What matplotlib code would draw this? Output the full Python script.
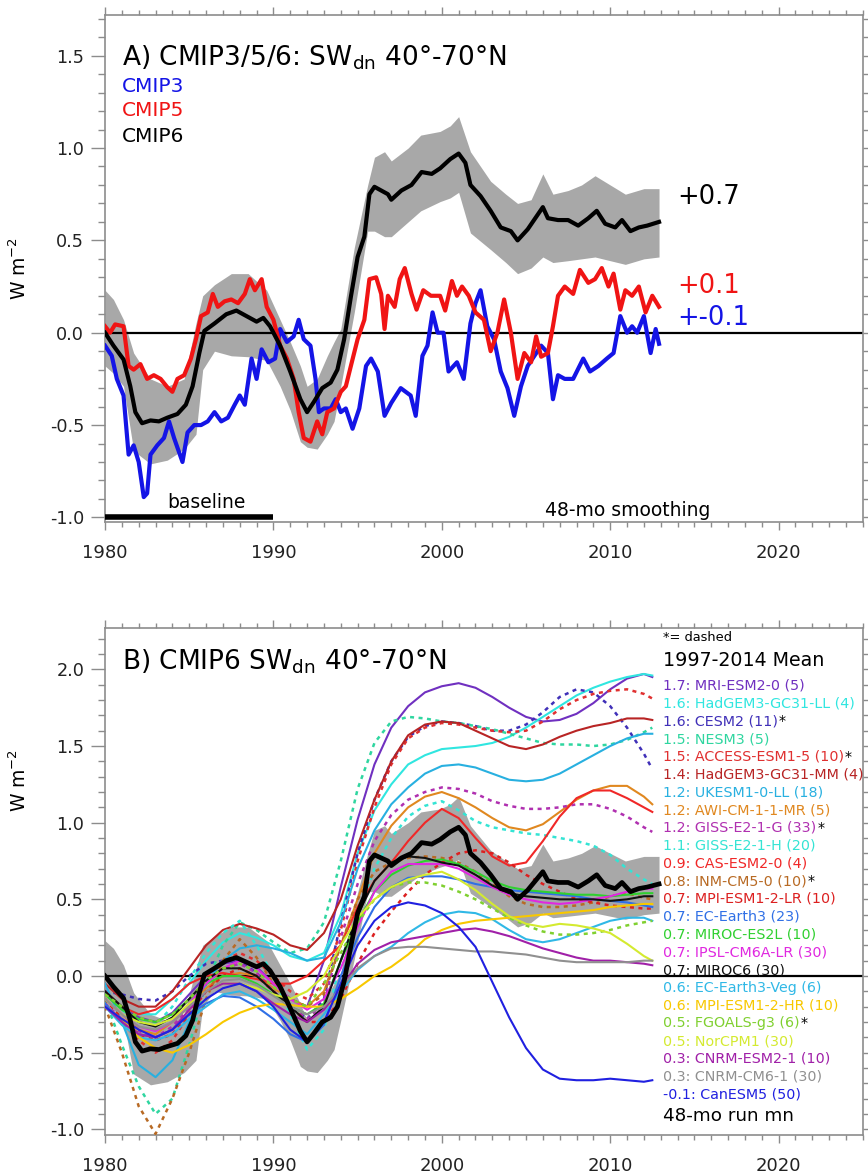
import matplotlib
matplotlib.use("Agg")
import matplotlib.pyplot as plt
from matplotlib.ticker import MultipleLocator, FormatStrFormatter

plt.rcParams['font.family'] = ['DejaVu Sans']
plt.rcParams['mathtext.default'] = 'regular'
plt.rcParams['axes.unicode_minus'] = False

# ---- panel A: multi-model means, 48-mo smoothing ----
cmip6_years = [1980.0, 1980.5, 1981.1, 1981.5, 1981.8, 1982.2, 1982.7, 1983.2, 1983.7, 1984.3,
               1984.8, 1985.2, 1985.6, 1985.9, 1986.5, 1987.2, 1987.8, 1988.4, 1989.0, 1989.4,
               1989.8, 1990.4, 1991.0, 1991.6, 1992.0, 1992.4, 1992.9, 1993.4, 1993.8, 1994.2,
               1994.6, 1995.0, 1995.4, 1995.7, 1996.0, 1996.8, 1997.0, 1997.6, 1998.2, 1998.8,
               1999.4, 1999.9, 2000.5, 2001.0, 2001.4, 2001.7, 2002.3, 2002.9, 2003.5, 2004.1,
               2004.5, 2005.1, 2005.7, 2006.0, 2006.3, 2006.9, 2007.5, 2008.1, 2008.7, 2009.2,
               2009.7, 2010.3, 2010.7, 2011.2, 2011.7, 2012.2, 2012.9]
cmip6_vals = [0.00, -0.07, -0.145, -0.29, -0.43, -0.49, -0.475, -0.48, -0.46, -0.44,
              -0.39, -0.29, -0.11, 0.01, 0.05, 0.10, 0.12, 0.09, 0.06, 0.08,
              0.035, -0.07, -0.21, -0.36, -0.43, -0.375, -0.30, -0.27, -0.20, -0.035,
              0.195, 0.41, 0.52, 0.75, 0.79, 0.75, 0.72, 0.77, 0.80, 0.87,
              0.86, 0.89, 0.94, 0.97, 0.92, 0.80, 0.74, 0.66, 0.57, 0.55,
              0.50, 0.56, 0.64, 0.68, 0.62, 0.61, 0.61, 0.58, 0.62, 0.66,
              0.59, 0.57, 0.61, 0.55, 0.57, 0.58, 0.60]

band_years = [1980.0, 1980.5, 1981.1, 1981.7, 1982.7, 1983.7, 1984.7, 1985.4, 1985.8, 1986.5,
              1987.5, 1988.5, 1989.6, 1990.4, 1991.0, 1991.6, 1992.0, 1992.6, 1993.2, 1993.6,
              1994.0, 1994.8, 1995.6, 1996.0, 1996.6, 1997.0, 1998.0, 1998.75, 1999.9, 2000.5,
              2001.0, 2001.7, 2002.9, 2003.8, 2004.5, 2005.3, 2006.0, 2006.6, 2007.5, 2008.3,
              2009.1, 2010.0, 2010.9, 2012.0, 2012.9]
band_upper = [0.23, 0.18, 0.07, -0.11, -0.25, -0.29, -0.25, 0.05, 0.20, 0.26,
              0.32, 0.32, 0.23, 0.07, -0.05, -0.18, -0.29, -0.25, -0.125, -0.05,
              0.02, 0.46, 0.80, 0.95, 0.98, 0.93, 1.00, 1.07, 1.09, 1.12,
              1.17, 0.98, 0.82, 0.75, 0.70, 0.72, 0.86, 0.75, 0.77, 0.80,
              0.85, 0.80, 0.75, 0.78, 0.78]
band_lower = [-0.18, -0.22, -0.29, -0.64, -0.71, -0.69, -0.63, -0.55, -0.20, -0.10,
              -0.125, -0.13, -0.15, -0.29, -0.42, -0.59, -0.62, -0.63, -0.55, -0.48,
              -0.29, 0.11, 0.55, 0.55, 0.52, 0.52, 0.60, 0.66, 0.71, 0.73,
              0.76, 0.54, 0.45, 0.38, 0.32, 0.35, 0.41, 0.38, 0.39, 0.40,
              0.41, 0.39, 0.37, 0.40, 0.41]

cmip5_years = [1980.0, 1980.3, 1980.6, 1981.1, 1981.4, 1981.7, 1982.1, 1982.5, 1982.9, 1983.3,
               1983.7, 1984.0, 1984.3, 1984.7, 1985.1, 1985.4, 1985.7, 1986.1, 1986.4, 1986.7,
               1987.1, 1987.5, 1987.9, 1988.3, 1988.6, 1988.9, 1989.3, 1989.6, 1990.0, 1990.4,
               1990.8, 1991.2, 1991.5, 1991.8, 1992.2, 1992.6, 1992.9, 1993.2, 1993.6, 1994.0,
               1994.3, 1994.6, 1995.0, 1995.4, 1995.7, 1996.1, 1996.4, 1996.6, 1996.8, 1997.2,
               1997.5, 1997.8, 1998.2, 1998.5, 1998.9, 1999.35, 1999.9, 2000.2, 2000.6, 2000.9,
               2001.2, 2001.6, 2002.0, 2002.5, 2002.9, 2003.3, 2003.7, 2004.1, 2004.5, 2004.9,
               2005.3, 2005.6, 2005.9, 2006.3, 2006.6, 2006.9, 2007.3, 2007.8, 2008.2, 2008.7,
               2009.1, 2009.5, 2009.9, 2010.2, 2010.6, 2010.9, 2011.3, 2011.7, 2012.1, 2012.5,
               2012.9]
cmip5_vals = [0.035, 0.0, 0.045, 0.035, -0.18, -0.20, -0.17, -0.25, -0.23, -0.25,
              -0.295, -0.32, -0.25, -0.23, -0.14, -0.035, 0.09, 0.11, 0.21, 0.14,
              0.17, 0.18, 0.16, 0.21, 0.29, 0.23, 0.29, 0.14, 0.07, -0.07,
              -0.14, -0.25, -0.43, -0.57, -0.59, -0.48, -0.55, -0.43, -0.41, -0.32,
              -0.29, -0.18, -0.035, 0.07, 0.29, 0.30, 0.21, 0.02, 0.20, 0.14,
              0.29, 0.35, 0.21, 0.125, 0.23, 0.20, 0.20, 0.12, 0.28, 0.20,
              0.25, 0.20, 0.11, 0.07, -0.10, 0.0, 0.18, 0.0, -0.25, -0.11,
              -0.16, -0.02, -0.13, -0.11, 0.035, 0.20, 0.25, 0.21, 0.34, 0.27,
              0.29, 0.35, 0.25, 0.32, 0.125, 0.23, 0.20, 0.25, 0.11, 0.20,
              0.14]

cmip3_years = [1980.0, 1980.4, 1980.7, 1981.1, 1981.4, 1981.7, 1982.0, 1982.3, 1982.5, 1982.7,
               1983.1, 1983.5, 1983.8, 1984.1, 1984.6, 1984.9, 1985.3, 1985.7, 1986.1, 1986.5,
               1986.9, 1987.3, 1987.7, 1988.0, 1988.3, 1988.7, 1989.0, 1989.3, 1989.7, 1990.1,
               1990.4, 1990.8, 1991.2, 1991.5, 1991.8, 1992.2, 1992.5, 1992.7, 1993.0, 1993.4,
               1993.7, 1994.0, 1994.3, 1994.7, 1995.1, 1995.5, 1995.8, 1996.2, 1996.6, 1997.0,
               1997.56, 1998.15, 1998.45, 1998.85, 1999.15, 1999.45, 1999.75, 2000.1, 2000.4, 2000.9,
               2001.3, 2001.7, 2002.0, 2002.3, 2002.7, 2003.1, 2003.5, 2003.9, 2004.3, 2004.7,
               2005.1, 2005.5, 2005.9, 2006.3, 2006.6, 2006.9, 2007.3, 2007.8, 2008.4, 2008.8,
               2009.3, 2009.8, 2010.2, 2010.6, 2011.0, 2011.3, 2011.6, 2012.0, 2012.4, 2012.7,
               2012.9]
cmip3_vals = [-0.07, -0.125, -0.25, -0.34, -0.66, -0.61, -0.70, -0.89, -0.87, -0.66,
              -0.61, -0.57, -0.48, -0.57, -0.70, -0.54, -0.50, -0.50, -0.48, -0.43,
              -0.48, -0.46, -0.39, -0.34, -0.39, -0.14, -0.25, -0.09, -0.16, -0.14,
              0.02, -0.05, -0.02, 0.07, -0.035, -0.07, -0.25, -0.43, -0.41, -0.41,
              -0.36, -0.43, -0.41, -0.52, -0.41, -0.18, -0.14, -0.21, -0.45, -0.38,
              -0.30, -0.34, -0.45, -0.125, -0.07, 0.11, 0.0, 0.0, -0.21, -0.16,
              -0.25, 0.05, 0.16, 0.23, 0.035, -0.035, -0.21, -0.30, -0.45, -0.29,
              -0.18, -0.125, -0.07, -0.11, -0.36, -0.23, -0.25, -0.25, -0.14, -0.21,
              -0.18, -0.14, -0.11, 0.09, 0.0, 0.035, 0.0, 0.09, -0.11, 0.02,
              -0.06]

baseline_years = [1980, 1990]
baseline_level = [-1.0, -1.0]

# ---- panel B: individual CMIP6 models (48-mo running mean) ----
model_years = list(range(1980, 2013)) + [2012.5]

mri_esm2_0 = [-0.10, -0.20, -0.27, -0.30, -0.24, -0.12, 0.00, 0.08, 0.10, 0.06, -0.05, -0.15, -0.20, 0.10,
              0.58, 1.02, 1.38, 1.62, 1.76, 1.85, 1.89, 1.91, 1.88, 1.82, 1.75, 1.69, 1.66, 1.67, 1.71, 1.78,
              1.87, 1.94, 1.97, 1.95]
hadgem3_ll = [-0.10, -0.20, -0.25, -0.25, -0.15, -0.05, 0.10, 0.22, 0.28, 0.25, 0.20, 0.13, 0.10, 0.15,
              0.40, 0.80, 1.08, 1.25, 1.38, 1.44, 1.48, 1.49, 1.50, 1.52, 1.56, 1.62, 1.69, 1.76, 1.83, 1.88,
              1.92, 1.95, 1.97, 1.96]
cesm2 = [-0.10, -0.12, -0.15, -0.16, -0.10, 0.00, 0.08, 0.10, 0.10, 0.02, -0.10, -0.20, -0.28, -0.15,
         0.35, 0.80, 1.15, 1.40, 1.56, 1.63, 1.66, 1.65, 1.63, 1.60, 1.60, 1.64, 1.72, 1.82, 1.87, 1.85,
         1.76, 1.62, 1.45, 1.35]
nesm3 = [-0.15, -0.45, -0.72, -0.90, -0.80, -0.45, -0.05, 0.20, 0.35, 0.30, 0.22, 0.15, 0.18, 0.35,
         0.75, 1.22, 1.52, 1.66, 1.69, 1.68, 1.66, 1.65, 1.63, 1.61, 1.58, 1.55, 1.52, 1.51, 1.51, 1.50,
         1.51, 1.54, 1.59, 1.62]
access_esm1_5 = [-0.20, -0.30, -0.42, -0.50, -0.42, -0.25, -0.05, 0.10, 0.15, 0.10, 0.00, -0.10, -0.15, -0.05,
                 0.30, 0.75, 1.10, 1.38, 1.55, 1.62, 1.65, 1.64, 1.62, 1.60, 1.59, 1.60, 1.66, 1.74, 1.80, 1.84,
                 1.86, 1.87, 1.84, 1.81]
hadgem3_mm = [-0.05, -0.15, -0.20, -0.20, -0.10, 0.05, 0.20, 0.30, 0.34, 0.31, 0.27, 0.20, 0.17, 0.28,
              0.50, 0.85, 1.15, 1.40, 1.57, 1.64, 1.66, 1.65, 1.60, 1.55, 1.50, 1.48, 1.51, 1.56, 1.60, 1.63,
              1.65, 1.68, 1.68, 1.67]
ukesm1_0_ll = [-0.05, -0.30, -0.58, -0.66, -0.55, -0.30, -0.05, 0.10, 0.18, 0.20, 0.18, 0.15, 0.10, 0.12,
               0.35, 0.70, 0.95, 1.12, 1.23, 1.32, 1.37, 1.38, 1.36, 1.32, 1.28, 1.27, 1.28, 1.32, 1.38, 1.44,
               1.50, 1.55, 1.58, 1.58]
awi_cm_1_1_mr = [-0.15, -0.25, -0.35, -0.38, -0.30, -0.20, -0.08, 0.00, 0.02, 0.00, -0.08, -0.15, -0.20, -0.10,
                 0.20, 0.50, 0.80, 0.98, 1.10, 1.17, 1.20, 1.16, 1.10, 1.03, 0.97, 0.95, 0.99, 1.07, 1.15, 1.21,
                 1.24, 1.24, 1.17, 1.12]
giss_e2_1_g = [-0.18, -0.28, -0.36, -0.40, -0.33, -0.20, -0.05, 0.05, 0.08, 0.02, -0.10, -0.20, -0.28, -0.18,
               0.25, 0.60, 0.88, 1.05, 1.15, 1.20, 1.23, 1.22, 1.19, 1.14, 1.11, 1.09, 1.09, 1.10, 1.12, 1.12,
               1.09, 1.04, 0.97, 0.94]
giss_e2_1_h = [-0.10, -0.22, -0.30, -0.32, -0.20, -0.02, 0.15, 0.28, 0.36, 0.20, 0.00, -0.25, -0.48, -0.35,
               0.10, 0.40, 0.70, 0.90, 1.04, 1.11, 1.14, 1.08, 1.01, 0.97, 0.95, 0.93, 0.92, 0.90, 0.88, 0.85,
               0.79, 0.70, 0.63, 0.60]
cas_esm2_0 = [-0.10, -0.20, -0.25, -0.22, -0.15, -0.05, 0.00, 0.02, 0.00, -0.02, -0.05, -0.05, 0.00, 0.10,
              0.20, 0.45, 0.62, 0.74, 0.88, 1.00, 1.09, 1.03, 0.90, 0.78, 0.72, 0.74, 0.88, 1.04, 1.16, 1.21,
              1.21, 1.16, 1.10, 1.07]
inm_cm5_0 = [-0.20, -0.50, -0.85, -1.03, -0.80, -0.50, -0.15, 0.10, 0.24, 0.12, -0.05, -0.15, -0.20, -0.12,
             0.20, 0.50, 0.68, 0.74, 0.77, 0.78, 0.77, 0.74, 0.68, 0.60, 0.52, 0.47, 0.45, 0.45, 0.46, 0.48,
             0.52, 0.54, 0.51, 0.50]
mpi_esm1_2_lr = [-0.15, -0.28, -0.38, -0.42, -0.38, -0.25, -0.10, 0.00, 0.05, 0.00, -0.10, -0.20, -0.30, -0.30,
                 -0.15, 0.08, 0.28, 0.42, 0.55, 0.66, 0.74, 0.80, 0.82, 0.80, 0.74, 0.66, 0.60, 0.55, 0.50, 0.48,
                 0.46, 0.45, 0.44, 0.44]
ec_earth3 = [-0.18, -0.30, -0.38, -0.40, -0.35, -0.25, -0.18, -0.13, -0.14, -0.20, -0.28, -0.38, -0.43, -0.32,
             0.00, 0.25, 0.45, 0.58, 0.64, 0.65, 0.65, 0.63, 0.60, 0.58, 0.56, 0.55, 0.54, 0.53, 0.52, 0.50,
             0.49, 0.48, 0.46, 0.45]
miroc_es2l = [-0.12, -0.22, -0.28, -0.30, -0.25, -0.15, -0.05, 0.00, 0.00, -0.05, -0.12, -0.20, -0.25, -0.18,
              0.10, 0.35, 0.55, 0.66, 0.72, 0.75, 0.76, 0.73, 0.68, 0.62, 0.58, 0.56, 0.55, 0.54, 0.53, 0.53,
              0.52, 0.53, 0.54, 0.54]
ipsl_cm6a_lr = [-0.15, -0.25, -0.33, -0.36, -0.30, -0.18, -0.05, 0.05, 0.10, 0.05, -0.05, -0.15, -0.22, -0.15,
                0.05, 0.32, 0.55, 0.68, 0.73, 0.73, 0.73, 0.70, 0.64, 0.58, 0.53, 0.50, 0.48, 0.47, 0.48, 0.50,
                0.52, 0.55, 0.57, 0.57]
miroc6 = [-0.10, -0.20, -0.30, -0.33, -0.27, -0.15, -0.03, 0.05, 0.05, 0.00, -0.10, -0.20, -0.30, -0.20,
          0.10, 0.40, 0.62, 0.74, 0.78, 0.77, 0.74, 0.72, 0.66, 0.59, 0.54, 0.52, 0.51, 0.50, 0.50, 0.50,
          0.49, 0.50, 0.52, 0.52]
ec_earth3_veg = [-0.20, -0.32, -0.40, -0.42, -0.38, -0.28, -0.20, -0.12, -0.10, -0.15, -0.22, -0.30, -0.38, -0.25,
                 -0.10, 0.04, 0.13, 0.19, 0.28, 0.35, 0.40, 0.42, 0.41, 0.37, 0.30, 0.24, 0.22, 0.24, 0.28, 0.32,
                 0.36, 0.38, 0.38, 0.36]
mpi_esm1_2_hr = [-0.20, -0.28, -0.40, -0.47, -0.50, -0.45, -0.38, -0.30, -0.24, -0.20, -0.18, -0.19, -0.20, -0.20,
                 -0.15, -0.08, 0.00, 0.06, 0.14, 0.24, 0.30, 0.34, 0.36, 0.37, 0.38, 0.39, 0.40, 0.41, 0.42, 0.43,
                 0.45, 0.46, 0.47, 0.47]
fgoals_g3 = [-0.12, -0.20, -0.27, -0.30, -0.25, -0.15, -0.03, 0.05, 0.08, 0.03, -0.07, -0.15, -0.20, -0.05,
             0.15, 0.35, 0.50, 0.58, 0.61, 0.61, 0.59, 0.55, 0.50, 0.44, 0.38, 0.33, 0.29, 0.27, 0.27, 0.28,
             0.30, 0.33, 0.35, 0.36]
norcpm1 = [-0.15, -0.25, -0.30, -0.32, -0.28, -0.18, -0.10, -0.05, -0.05, -0.08, -0.12, -0.15, -0.10, 0.00,
           0.20, 0.38, 0.50, 0.58, 0.63, 0.66, 0.68, 0.63, 0.56, 0.47, 0.39, 0.34, 0.32, 0.34, 0.33, 0.31,
           0.28, 0.21, 0.13, 0.10]
cnrm_esm2_1 = [-0.20, -0.30, -0.38, -0.40, -0.35, -0.22, -0.10, -0.05, -0.05, -0.10, -0.18, -0.25, -0.30, -0.22,
               -0.08, 0.08, 0.17, 0.22, 0.24, 0.26, 0.28, 0.30, 0.31, 0.29, 0.26, 0.22, 0.18, 0.15, 0.12, 0.10,
               0.10, 0.09, 0.08, 0.07]
cnrm_cm6_1 = [-0.15, -0.25, -0.33, -0.35, -0.30, -0.20, -0.10, -0.03, -0.02, -0.06, -0.13, -0.20, -0.25, -0.20,
              -0.08, 0.05, 0.13, 0.18, 0.19, 0.19, 0.18, 0.17, 0.16, 0.16, 0.15, 0.14, 0.12, 0.10, 0.09, 0.09,
              0.09, 0.09, 0.10, 0.10]
canesm5 = [-0.20, -0.28, -0.35, -0.40, -0.35, -0.25, -0.15, -0.08, -0.05, -0.10, -0.20, -0.35, -0.43, -0.30,
           -0.05, 0.20, 0.36, 0.45, 0.48, 0.46, 0.41, 0.32, 0.19, -0.04, -0.27, -0.47, -0.61, -0.67, -0.68, -0.68,
           -0.67, -0.68, -0.69, -0.68]

model_names = ['MRI-ESM2-0', 'HadGEM3-GC31-LL', 'CESM2', 'NESM3', 'ACCESS-ESM1-5', 'HadGEM3-GC31-MM',
               'UKESM1-0-LL', 'AWI-CM-1-1-MR', 'GISS-E2-1-G', 'GISS-E2-1-H', 'CAS-ESM2-0', 'INM-CM5-0',
               'MPI-ESM1-2-LR', 'EC-Earth3', 'MIROC-ES2L', 'IPSL-CM6A-LR', 'MIROC6', 'EC-Earth3-Veg',
               'MPI-ESM1-2-HR', 'FGOALS-g3', 'NorCPM1', 'CNRM-ESM2-1', 'CNRM-CM6-1', 'CanESM5']
model_means = ['1.7', '1.6', '1.6', '1.5', '1.5', '1.4', '1.2', '1.2', '1.2', '1.1', '0.9', '0.8',
               '0.7', '0.7', '0.7', '0.7', '0.7', '0.6', '0.6', '0.5', '0.5', '0.3', '0.3', '-0.1']
model_members = [5, 4, 11, 5, 10, 4, 18, 5, 33, 20, 4, 10, 10, 23, 10, 30, 30, 6, 10, 6, 30, 10, 30, 50]
model_starred = ['CESM2', 'ACCESS-ESM1-5', 'GISS-E2-1-G', 'INM-CM5-0', 'FGOALS-g3']
model_series = [mri_esm2_0, hadgem3_ll, cesm2, nesm3, access_esm1_5, hadgem3_mm, ukesm1_0_ll,
                awi_cm_1_1_mr, giss_e2_1_g, giss_e2_1_h, cas_esm2_0, inm_cm5_0, mpi_esm1_2_lr, ec_earth3,
                miroc_es2l, ipsl_cm6a_lr, miroc6, ec_earth3_veg, mpi_esm1_2_hr, fgoals_g3, norcpm1,
                cnrm_esm2_1, cnrm_cm6_1, canesm5]

model_colors = ['#7030c0', '#30e6e0', '#4030b8', '#2fd6a0', '#e03030', '#b82424', '#28b0e0', '#e08820',
                '#b030b0', '#34e4d4', '#f02828', '#b86a24', '#dc2020', '#3070e6', '#30d030', '#e028e0',
                '#111111', '#30b8e6', '#f8c800', '#80d030', '#d4ea30', '#a020a8', '#909090', '#2020e0']
dashed = ['CESM2', 'NESM3', 'ACCESS-ESM1-5', 'GISS-E2-1-G', 'GISS-E2-1-H', 'INM-CM5-0',
          'MPI-ESM1-2-LR', 'FGOALS-g3']

GRAY = '#a8a8a8'
AXC = '#8c8c8c'


def style_axes(ax, ylo, yhi):
    ax.set_xlim(1980, 2025)
    ax.set_ylim(ylo, yhi)
    ax.xaxis.set_major_locator(MultipleLocator(10))
    ax.xaxis.set_minor_locator(MultipleLocator(1))
    ax.yaxis.set_major_locator(MultipleLocator(0.5))
    ax.yaxis.set_minor_locator(MultipleLocator(0.1))
    ax.yaxis.set_major_formatter(FormatStrFormatter('%.1f'))
    ax.tick_params(which='both', direction='out', top=True, right=True, color=AXC,
                   width=1.0, labelcolor='#222222')
    ax.tick_params(axis='y', which='major', length=10, pad=5, labelsize=12.7)
    ax.tick_params(axis='y', which='minor', length=5)
    ax.tick_params(axis='x', which='major', length=6, pad=10, labelsize=13)
    ax.tick_params(axis='x', which='minor', length=3.5)
    for s in ax.spines.values():
        s.set_color(AXC)
        s.set_linewidth(1.2)


fig = plt.figure(figsize=(8.68, 11.76), dpi=100)
axA = fig.add_axes([0.121, 0.5561, 0.873, 0.4311])
axB = fig.add_axes([0.121, 0.0349, 0.873, 0.4311])

# ---------- A ----------
style_axes(axA, -1.025, 1.72)
axA.fill_between(band_years, band_lower, band_upper, color=GRAY, lw=0, zorder=1)
axA.axhline(0, color='black', lw=1.6, zorder=2)
axA.plot(cmip3_years, cmip3_vals, color='#1414e6', lw=3.0, zorder=3)
axA.plot(cmip5_years, cmip5_vals, color='#f01414', lw=3.0, zorder=4)
axA.plot(cmip6_years, cmip6_vals, color='black', lw=3.0, zorder=5)
axA.plot(baseline_years, baseline_level, color='black', lw=4, solid_capstyle='butt', zorder=5)

axA.text(1981.0, 1.447, 'A) CMIP3/5/6: SW$_{dn}$ 40°-70°N', fontsize=19, va='baseline')
axA.text(1981.0, 1.306, 'CMIP3', color='#1414e6', fontsize=14.5, va='baseline')
axA.text(1981.0, 1.171, 'CMIP5', color='#f01414', fontsize=14.5, va='baseline')
axA.text(1981.0, 1.035, 'CMIP6', color='black', fontsize=14.5, va='baseline')
axA.text(2014.0, 0.737, '+0.7', color='black', fontsize=18.5, va='center')
axA.text(2014.0, 0.255, '+0.1', color='#f01414', fontsize=18.5, va='center')
axA.text(2014.0, 0.081, '+-0.1', color='#1414e6', fontsize=18.5, va='center')
axA.text(1986.03, -0.948, 'baseline', fontsize=13.5, ha='center', va='baseline')
axA.text(2011.05, -0.99, '48-mo smoothing', fontsize=13.5, ha='center', va='baseline')
axA.set_ylabel('W m$^{-2}$', fontsize=13.5)
axA.yaxis.set_label_coords(-0.099, 0.5)

# ---------- B ----------
style_axes(axB, -1.037, 2.27)
axB.fill_between(band_years, band_lower, band_upper, color=GRAY, lw=0, zorder=1)
axB.axhline(0, color='black', lw=1.6, zorder=2)
for name, vals, col in zip(model_names, model_series, model_colors):
    ls = (0, (1.6, 1.8)) if name in dashed else '-'
    axB.plot(model_years, vals, color=col, lw=1.8 if name in dashed else 1.5, ls=ls, zorder=3)
axB.plot(cmip6_years, cmip6_vals, color='black', lw=3.4, zorder=6)

axB.text(1981.0, 1.996, 'B) CMIP6 SW$_{dn}$ 40°-70°N', fontsize=19, va='baseline')
axB.text(2013.15, 2.209, '*= dashed', fontsize=9.4, va='center')
axB.text(2013.15, 2.022, '1997-2014 Mean', fontsize=13.7, va='baseline')
for i, (name, mean, n, col) in enumerate(zip(model_names, model_means, model_members, model_colors)):
    y = 1.867 - i * 0.1159
    t = axB.text(2013.15, y, f'{mean}: {name} ({n})', color=col, fontsize=10.3, va='baseline')
    if name in model_starred:
        axB.annotate('*', xy=(1, 1), xycoords=t, xytext=(0.5, 0), textcoords='offset points',
                     ha='left', va='top', fontsize=10.3, color='black')
axB.text(2013.15, -0.947, '48-mo run mn', fontsize=13.2, va='baseline')
axB.set_ylabel('W m$^{-2}$', fontsize=13.5)
axB.yaxis.set_label_coords(-0.099, 0.70)

fig.savefig('out.png', dpi=100)
